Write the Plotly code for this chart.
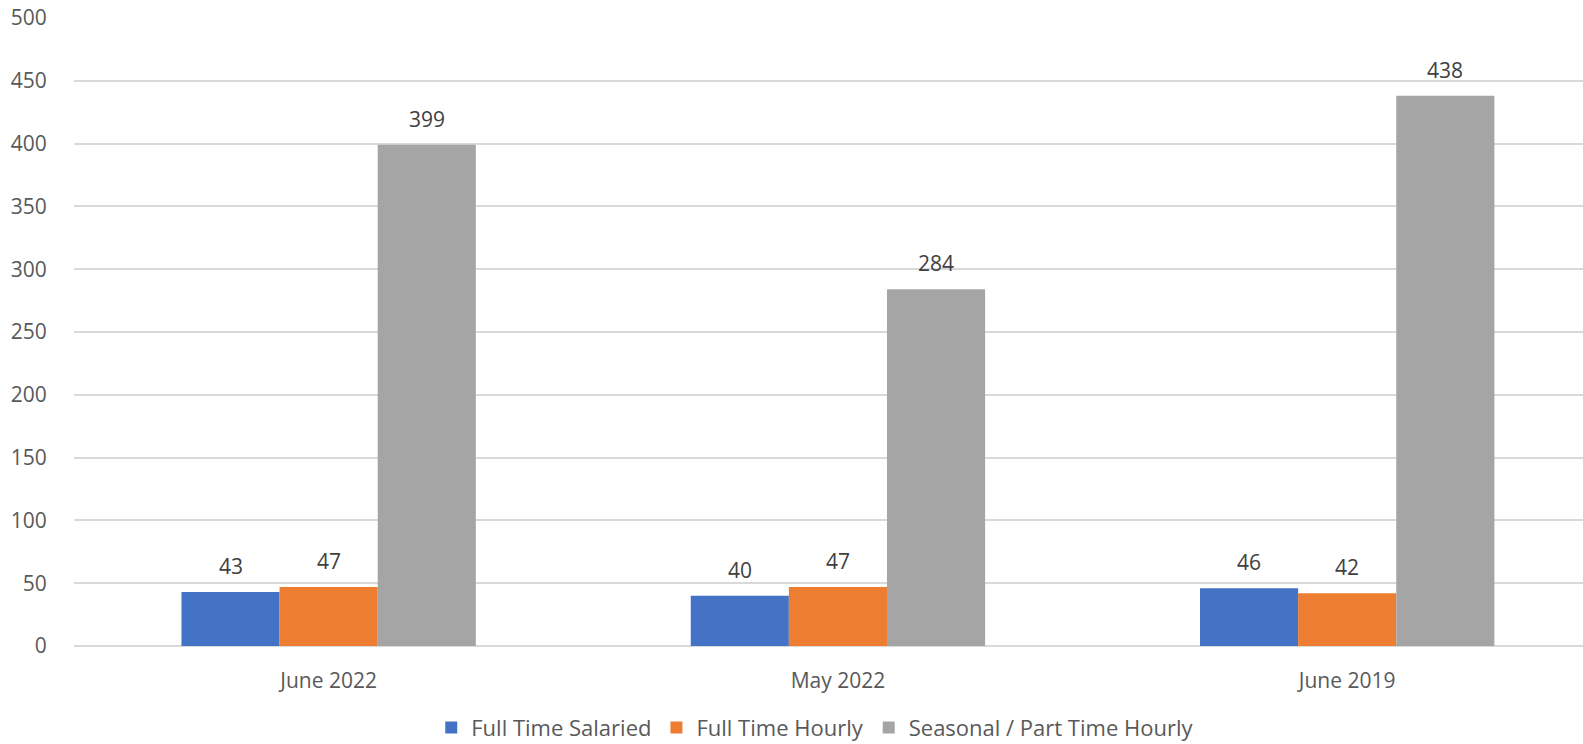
import plotly.graph_objects as go

categories = ["June 2022", "May 2022", "June 2019"]
full_time_salaried = [43, 40, 46]
full_time_hourly = [47, 47, 42]
seasonal_part_time = [399, 284, 438]
series_names = ["Full Time Salaried", "Full Time Hourly", "Seasonal / Part Time Hourly"]
colors = ["#4472C4", "#ED7D31", "#A5A5A5"]
y_ticks = [0, 50, 100, 150, 200, 250, 300, 350, 400, 450, 500]

FONT = "Open Sans"
TXT = "#595959"
bargap = 0.422

fig = go.Figure()
all_series = [full_time_salaried, full_time_hourly, seasonal_part_time]
for name, vals, col in zip(series_names, all_series, colors):
    fig.add_trace(go.Bar(name=name, x=categories, y=vals, marker_color=col,
                         marker_line_width=0))

# data labels
bw = (1 - bargap) / 3
annotations = []
for si, vals in enumerate(all_series):
    for ci, v in enumerate(vals):
        annotations.append(dict(x=ci + (si - 1) * bw, y=v, xref="x", yref="y",
                                text=str(v), showarrow=False, yanchor="middle",
                                yshift=26, font=dict(family=FONT, size=21, color="#404040")))

fig.update_layout(
    width=1583, height=744,
    margin=dict(l=74, r=0, t=18, b=98),
    paper_bgcolor="white", plot_bgcolor="white",
    barmode="group", bargap=bargap, bargroupgap=0,
    font=dict(family=FONT, size=21, color=TXT),
    annotations=annotations,
    showlegend=True,
    legend=dict(orientation="h", xref="container", yref="container",
                xanchor="center", x=0.515, yanchor="middle", y=0.022,
                font=dict(family=FONT, size=22, color=TXT),
                traceorder="normal"),
)
fig.update_xaxes(range=[-0.5, 2.463], showgrid=False, showline=False, ticks="outside", ticklen=16,
                 tickcolor="rgba(0,0,0,0)", tickfont=dict(family=FONT, size=21, color=TXT))
fig.update_yaxes(range=[0, 500], tickvals=y_ticks, showgrid=True, gridcolor="#D9D9D9",
                 gridwidth=1.5, zeroline=True, zerolinecolor="#D9D9D9", zerolinewidth=1.5,
                 showline=False, ticks="outside", ticklen=22, tickcolor="rgba(0,0,0,0)",
                 tickfont=dict(family=FONT, size=21, color=TXT))

fig.write_html("out.html")
